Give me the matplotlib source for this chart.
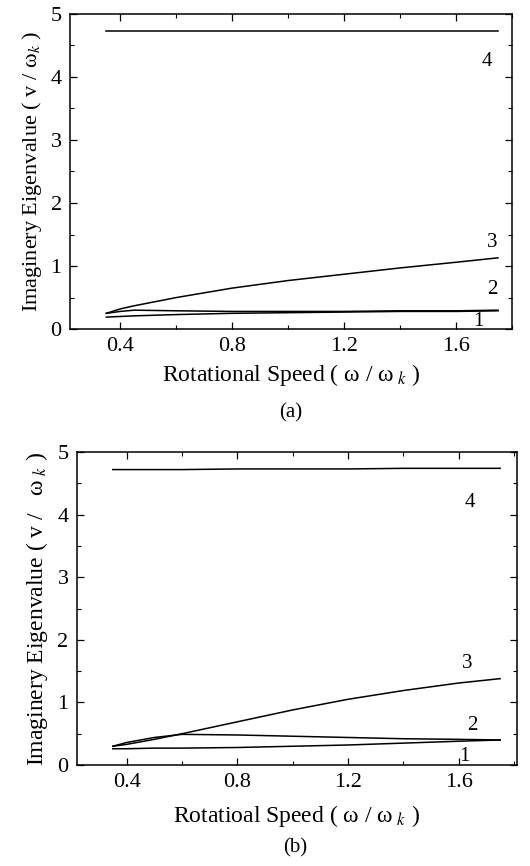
import matplotlib
matplotlib.use("Agg")
import matplotlib.pyplot as plt
from matplotlib.ticker import MultipleLocator

plt.rcParams['font.family'] = ['Liberation Serif', 'DejaVu Serif']
plt.rcParams['mathtext.fontset'] = 'stix'

# panel (a)
speed_a = [0.35, 0.40, 0.45, 0.60, 0.80, 1.00, 1.20, 1.40, 1.60, 1.75]
mode1_a = [0.19, 0.20, 0.21, 0.23, 0.25, 0.26, 0.27, 0.28, 0.28, 0.29]
mode2_a = [0.25, 0.28, 0.30, 0.29, 0.28, 0.28, 0.28, 0.29, 0.29, 0.30]
mode3_a = [0.25, 0.32, 0.37, 0.50, 0.65, 0.77, 0.87, 0.97, 1.06, 1.13]
mode4_a = [4.73, 4.73, 4.73, 4.73, 4.73, 4.73, 4.73, 4.73, 4.73, 4.73]

# panel (b)
speed_b = [0.35, 0.40, 0.50, 0.60, 0.80, 1.00, 1.20, 1.40, 1.60, 1.75]
mode1_b = [0.26, 0.26, 0.27, 0.27, 0.28, 0.30, 0.32, 0.35, 0.38, 0.40]
mode2_b = [0.30, 0.36, 0.44, 0.49, 0.48, 0.46, 0.44, 0.42, 0.41, 0.40]
mode3_b = [0.30, 0.33, 0.41, 0.50, 0.69, 0.88, 1.05, 1.19, 1.31, 1.38]
mode4_b = [4.72, 4.72, 4.72, 4.72, 4.73, 4.73, 4.73, 4.74, 4.74, 4.74]

labels_a = [("1", 1.68, 0.12), ("2", 1.73, 0.63), ("3", 1.73, 1.38), ("4", 1.71, 4.24)]
labels_b = [("1", 1.62, 0.13), ("2", 1.65, 0.63), ("3", 1.63, 1.62), ("4", 1.64, 4.19)]

fig = plt.figure(figsize=(5.3, 8.66), dpi=100)
ax1 = fig.add_axes([0.132, 0.620, 0.834, 0.364])
ax2 = fig.add_axes([0.145, 0.1166, 0.830, 0.3614])


def draw_panel(ax, x, modes, labels, xlim, xlabel, ylabel, xpad, ysize):
    for m in modes:
        ax.plot(x, m, color="black", linewidth=1.1)
    for txt, lx, ly in labels:
        ax.text(lx, ly, txt, fontsize=15, ha="center", va="center")
    ax.set_xlim(*xlim)
    ax.set_ylim(0, 5)
    ax.set_xticks([0.4, 0.8, 1.2, 1.6])
    ax.set_xticklabels(["0.4", "0.8", "1.2", "1.6"])
    ax.xaxis.set_minor_locator(MultipleLocator(0.2))
    ax.yaxis.set_major_locator(MultipleLocator(1))
    ax.yaxis.set_minor_locator(MultipleLocator(0.5))
    ax.tick_params(which="both", direction="in", top=True, right=True, labelsize=16)
    ax.tick_params(which="major", length=5, width=0.9, pad=6)
    ax.tick_params(which="minor", length=3, width=0.8)
    for s in ax.spines.values():
        s.set_linewidth(1.1)
    ax.set_xlabel(xlabel, fontsize=17, labelpad=xpad)
    ax.set_ylabel(ylabel, fontsize=ysize, labelpad=5)


draw_panel(ax1, speed_a, [mode1_a, mode2_a, mode3_a, mode4_a], labels_a,
           (0.22, 1.80), "Rotational Speed ( ω / ω$_{\\ k}$ )",
           "Imaginery Eigenvalue ( v / ω$_{k}$ )", 4, 16)
draw_panel(ax2, speed_b, [mode1_b, mode2_b, mode3_b, mode4_b], labels_b,
           (0.22, 1.81), "Rotatioal Speed ( ω / ω$_{\\ k}$ )",
           "Imaginery Eigenvalue ( v /   ω$_{\\ k}$ )", 8, 17)

fig.text(0.548, 1 - 413 / 866, "(a)", fontsize=15, ha="center", va="center")
fig.text(0.557, 1 - 848 / 866, "(b)", fontsize=15, ha="center", va="center")

fig.savefig("out.png", dpi=100)
